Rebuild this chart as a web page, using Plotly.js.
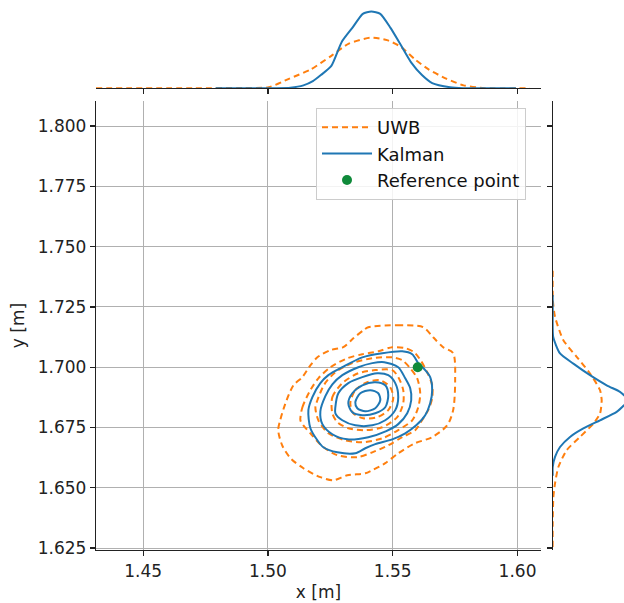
<!DOCTYPE html>
<html>
<head>
<meta charset="utf-8">
<script src="https://cdn.plot.ly/plotly-3.0.1.min.js"></script>
<style>html,body{margin:0;padding:0;background:#fff}#chart{width:624px;height:603px}</style>
</head>
<body>
<div id="chart"></div>
<script>
// ---- tick values ----
const xTickVals = [1.45, 1.50, 1.55, 1.60];
const yTickVals = [1.625, 1.650, 1.675, 1.700, 1.725, 1.750, 1.775, 1.800];

// ---- reference point ----
const refX = [1.56];
const refY = [1.70];

// ---- UWB KDE contours (outer -> inner) ----
const uwb1X = [1.5402,1.5518,1.5622,1.5662,1.5702,1.5742,1.5750,1.5742,1.5718,1.5658,1.5590,1.5522,1.5470,1.5418,1.5390,1.5318,1.5262,1.5210,1.5142,1.5090,1.5057,1.5041,1.5049,1.5069,1.5102,1.5138,1.5170,1.5198,1.5250,1.5302,1.5342,1.5382];
const uwb1Y = [1.7166,1.7174,1.7166,1.7124,1.7083,1.7058,1.6946,1.6822,1.6759,1.6710,1.6685,1.6643,1.6602,1.6573,1.6560,1.6552,1.6531,1.6544,1.6581,1.6623,1.6676,1.6739,1.6780,1.6847,1.6925,1.6959,1.7008,1.7041,1.7071,1.7083,1.7120,1.7153];
const uwb2X = [1.5130,1.5138,1.5170,1.5202,1.5250,1.5318,1.5378,1.5442,1.5498,1.5550,1.5586,1.5614,1.5638,1.5658,1.5658,1.5642,1.5622,1.5590,1.5538,1.5482,1.5418,1.5358,1.5278,1.5218,1.5170,1.5142];
const uwb2Y = [1.6780,1.6834,1.6905,1.6954,1.7000,1.7037,1.7054,1.7066,1.7083,1.7079,1.7062,1.7025,1.6979,1.6925,1.6871,1.6822,1.6788,1.6739,1.6710,1.6676,1.6647,1.6627,1.6635,1.6672,1.6726,1.6759];
const uwb3X = [1.5198,1.5226,1.5270,1.5338,1.5418,1.5498,1.5538,1.5570,1.5598,1.5610,1.5602,1.5578,1.5522,1.5458,1.5378,1.5310,1.5242,1.5202,1.5190];
const uwb3Y = [1.6863,1.6929,1.6979,1.7017,1.7037,1.7041,1.7029,1.6996,1.6954,1.6892,1.6834,1.6780,1.6739,1.6705,1.6689,1.6697,1.6726,1.6780,1.6834];
const uwb4X = [1.5258,1.5258,1.5298,1.5362,1.5430,1.5498,1.5522,1.5542,1.5542,1.5518,1.5458,1.5390,1.5322,1.5278];
const uwb4Y = [1.6809,1.6876,1.6934,1.6975,1.6988,1.6988,1.6959,1.6905,1.6851,1.6793,1.6751,1.6739,1.6747,1.6772];
const uwb5X = [1.5330,1.5350,1.5398,1.5450,1.5490,1.5502,1.5482,1.5438,1.5382,1.5342];
const uwb5Y = [1.6851,1.6905,1.6938,1.6946,1.6917,1.6871,1.6822,1.6793,1.6788,1.6809];

// ---- Kalman KDE contours (outer -> inner) ----
const kal1X = [1.5162,1.5178,1.5210,1.5242,1.5298,1.5378,1.5458,1.5538,1.5578,1.5602,1.5630,1.5650,1.5658,1.5650,1.5630,1.5594,1.5550,1.5498,1.5430,1.5390,1.5350,1.5278,1.5222,1.5198,1.5170];
const kal1Y = [1.6822,1.6876,1.6934,1.6967,1.7000,1.7041,1.7058,1.7066,1.7054,1.7017,1.6988,1.6959,1.6905,1.6851,1.6801,1.6759,1.6726,1.6701,1.6681,1.6664,1.6643,1.6647,1.6668,1.6697,1.6747];
const kal2X = [1.5466,1.5522,1.5550,1.5570,1.5574,1.5558,1.5522,1.5474,1.5402,1.5318,1.5258,1.5218,1.5210,1.5230,1.5258,1.5298,1.5362,1.5418];
const kal2Y = [1.7021,1.7000,1.6954,1.6913,1.6863,1.6809,1.6764,1.6735,1.6710,1.6701,1.6722,1.6764,1.6817,1.6880,1.6929,1.6967,1.7000,1.7017];
const kal3X = [1.5270,1.5282,1.5322,1.5378,1.5438,1.5482,1.5510,1.5522,1.5510,1.5470,1.5418,1.5350,1.5298,1.5270];
const kal3Y = [1.6834,1.6892,1.6934,1.6959,1.6975,1.6967,1.6934,1.6876,1.6822,1.6780,1.6759,1.6759,1.6780,1.6809];
const kal4X = [1.5322,1.5338,1.5378,1.5430,1.5470,1.5482,1.5470,1.5430,1.5378,1.5338];
const kal4Y = [1.6851,1.6892,1.6925,1.6938,1.6925,1.6884,1.6834,1.6809,1.6801,1.6813];
const kal5X = [1.5350,1.5370,1.5410,1.5442,1.5450,1.5430,1.5390,1.5358];
const kal5Y = [1.6855,1.6892,1.6905,1.6892,1.6863,1.6830,1.6817,1.6830];

// ---- marginal KDE along x (top) ----
const uwbMargX = [1.4311,1.4700,1.4900,1.5003,1.5086,1.5170,1.5254,1.5324,1.5408,1.5477,1.5533,1.5589,1.5645,1.5714,1.5784,1.5869,1.6050];
const uwbMargXd = [0,0,0.1,0.4,4.1,7.9,13.8,19.0,21.5,20.5,17.6,12.3,7.9,4.1,1.2,0,0];
const kalMargX = [1.4790,1.5000,1.5029,1.5090,1.5142,1.5180,1.5212,1.5254,1.5296,1.5338,1.5380,1.5414,1.5450,1.5491,1.5533,1.5575,1.5617,1.5658,1.5729,1.5782,1.5994];
const kalMargXd = [0,0,0,0.2,1.2,3.0,5.6,9.5,19.8,25.7,31.7,32.7,31.7,25.7,18.3,10.8,5.6,2.2,0.4,0,0];

// ---- marginal KDE along y (right) ----
const uwbMargY = [1.7400,1.7278,1.7209,1.7112,1.7043,1.6974,1.6905,1.6863,1.6808,1.6766,1.6711,1.6656,1.6586,1.6518,1.6462,1.6350,1.6200];
const uwbMargYd = [0,0.1,1.4,6.4,14.4,22.4,28.4,29.4,28.4,24.4,16.4,8.4,3.4,1.4,0.4,0,0];
const kalMargY = [1.7300,1.7224,1.7126,1.7057,1.7015,1.6967,1.6925,1.6898,1.6884,1.6863,1.6842,1.6815,1.6780,1.6746,1.6711,1.6669,1.6628,1.6586,1.6550];
const kalMargYd = [0,0,0.3,4.4,12.4,22.4,32.4,40.4,42.8,45.6,42.8,38.4,28.4,18.4,10.4,4.4,1.4,0,0];

const ORANGE = '#ff7f0e', BLUE = '#1f77b4', GREEN = '#0f8a3a';
const close = a => a.concat([a[0]]);
const traces = [];
const uwbSets = [[uwb1X,uwb1Y],[uwb2X,uwb2Y],[uwb3X,uwb3Y],[uwb4X,uwb4Y],[uwb5X,uwb5Y]];
const kalSets = [[kal1X,kal1Y],[kal2X,kal2Y],[kal3X,kal3Y],[kal4X,kal4Y],[kal5X,kal5Y]];
uwbSets.forEach((s,i) => traces.push({
  type:'scatter', mode:'lines', x: close(s[0]), y: close(s[1]), xaxis:'x', yaxis:'y',
  name:'UWB', legendgroup:'uwb', showlegend: i===0,
  line:{color:ORANGE, width:2, dash:'6px,4px', shape:'spline', smoothing:0.8}, hoverinfo:'skip'
}));
kalSets.forEach((s,i) => traces.push({
  type:'scatter', mode:'lines', x: close(s[0]), y: close(s[1]), xaxis:'x', yaxis:'y',
  name:'Kalman', legendgroup:'kal', showlegend: i===0,
  line:{color:BLUE, width:2, shape:'spline', smoothing:0.8}, hoverinfo:'skip'
}));
traces.push({type:'scatter', mode:'markers', x: refX, y: refY, xaxis:'x', yaxis:'y',
  name:'Reference point', marker:{color:GREEN, size:10}});
// marginals
traces.push({type:'scatter', mode:'lines', x: uwbMargX, y: uwbMargXd, xaxis:'x2', yaxis:'y2', showlegend:false,
  line:{color:ORANGE, width:2, dash:'6px,4px', shape:'spline', smoothing:0.6}});
traces.push({type:'scatter', mode:'lines', x: kalMargX, y: kalMargXd, xaxis:'x2', yaxis:'y2', showlegend:false,
  line:{color:BLUE, width:2, shape:'spline', smoothing:0.6}});
traces.push({type:'scatter', mode:'lines', x: uwbMargYd, y: uwbMargY, xaxis:'x3', yaxis:'y3', showlegend:false,
  line:{color:ORANGE, width:2, dash:'6px,4px', shape:'spline', smoothing:0.6}});
traces.push({type:'scatter', mode:'lines', x: kalMargYd, y: kalMargY, xaxis:'x3', yaxis:'y3', showlegend:false,
  line:{color:BLUE, width:2, shape:'spline', smoothing:0.6}});

const W = 624, H = 603;
const FONT = 'DejaVu Sans, sans-serif';
const xRange = [1.4311, 1.6094], yRange = [1.6242, 1.8104];
const mainXDom = [96/W, 541/W], mainYDom = [(H-550)/H, (H-101)/H];
const axCommon = {showline:true, linecolor:'#222', linewidth:1.2, ticks:'outside', ticklen:5, tickwidth:1.2, tickcolor:'#222', zeroline:false};

const layout = {
  width: W, height: H, margin:{l:0,r:0,t:0,b:0}, paper_bgcolor:'#fff', plot_bgcolor:'rgba(0,0,0,0)',
  font:{family:FONT, size:17, color:'#222'},
  showlegend:true,
  legend:{x:316/W, y:1-108/H, xanchor:'left', yanchor:'top', bgcolor:'rgba(255,255,255,0.85)', bordercolor:'#cccccc', borderwidth:1, font:{size:18, color:'#111'}, tracegroupgap:0, itemwidth:50},
  xaxis: Object.assign({}, axCommon, {domain: mainXDom, range: xRange, anchor:'y', tickvals: xTickVals, ticktext: xTickVals.map(v=>v.toFixed(2)),
    showgrid:true, gridcolor:'#b0b0b0', gridwidth:1, title:{text:'x [m]', font:{size:17}, standoff:6}}),
  yaxis: Object.assign({}, axCommon, {domain: mainYDom, range: yRange, anchor:'x', tickvals: yTickVals, ticktext: yTickVals.map(v=>v.toFixed(3)),
    showgrid:true, gridcolor:'#b0b0b0', gridwidth:1, title:{text:'y [m]', font:{size:17}, standoff:8}}),
  xaxis2: Object.assign({}, axCommon, {domain: mainXDom, range: xRange, anchor:'y2', tickvals: xTickVals, showticklabels:false, showgrid:false}),
  yaxis2: {domain:[(H-88.2)/H, (H-7.7)/H], range:[0, 34.3], anchor:'x2', visible:false, showgrid:false, zeroline:false},
  xaxis3: {domain:[552.7/W, 1], range:[0, 42.8], anchor:'y3', visible:false, showgrid:false, zeroline:false},
  yaxis3: Object.assign({}, axCommon, {domain: mainYDom, range: yRange, anchor:'x3', tickvals: yTickVals, showticklabels:false, showgrid:false})
};
Plotly.newPlot('chart', traces, layout, {displayModeBar:false, staticPlot:true});
</script>
</body>
</html>
